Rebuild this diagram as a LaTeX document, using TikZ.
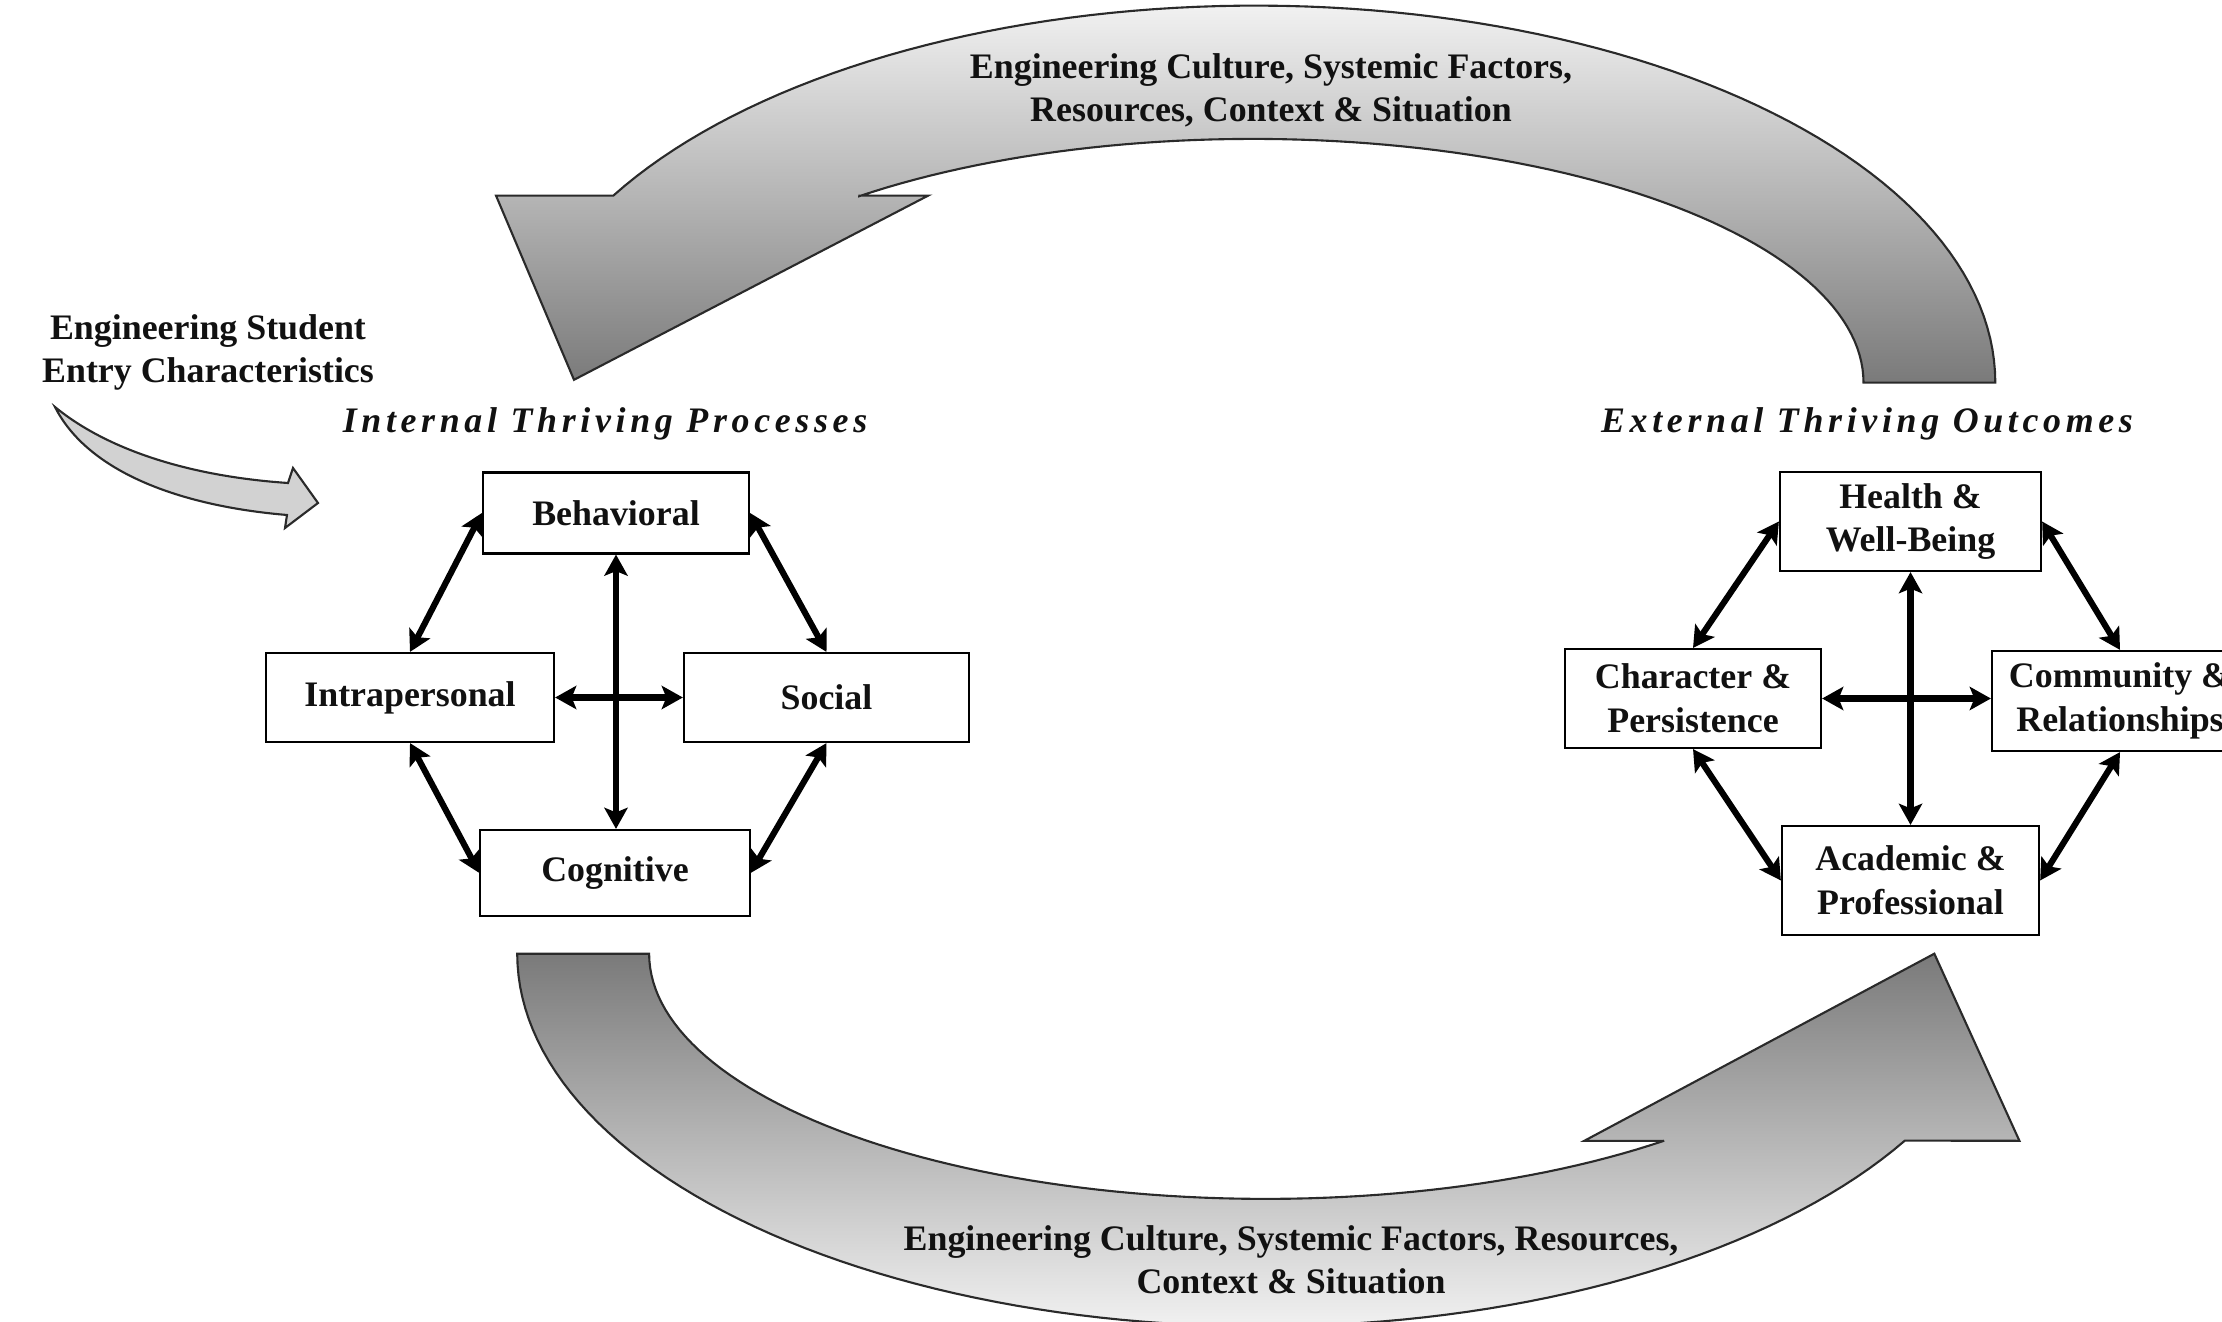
\documentclass[tikz,border=0pt]{standalone}
\usepackage{fontspec}
\setmainfont{Liberation Serif}
\newfontfamily\headfont{Liberation Serif}[LetterSpace=13]
\usetikzlibrary{arrows.meta,calc}
\definecolor{arrowlight}{HTML}{F1F1F1}
\definecolor{arrowdark}{HTML}{7A7A7A}
\definecolor{entryfill}{HTML}{D2D2D2}
\definecolor{arrowline}{HTML}{2A2A2A}
\definecolor{ink}{HTML}{111111}

\begin{document}
\begin{tikzpicture}[x=0.01cm,y=-0.01cm,
  every node/.style={text=ink},
  boxtext/.style={font=\fontsize{10.2}{12.5}\selectfont\bfseries},
  factor/.style={draw, line width=0.6pt, boxtext, align=center, inner sep=0pt},
  note/.style={font=\fontsize{10.2}{12.2}\selectfont\bfseries, align=center, inner sep=0pt},
  heading/.style={font=\fontsize{10.2}{12.5}\selectfont\headfont\bfseries\itshape, inner sep=0pt},
  bigarrow/.style={draw=arrowline, line width=0.6pt},
  tipshape/.tip={Stealth[length=6pt,width=6.6pt,inset=1.3pt]},
  link/.style={tipshape-tipshape, line width=1.75pt},
  crosslink/.style={link, line width=2.2pt}
]

\useasboundingbox (0,0) rectangle (2222,1322);
\clip (0,0) rectangle (2222,1322);

% upper feedback arrow, running from the outcomes back to the processes
\path[bigarrow, top color=arrowlight, bottom color=arrowdark]
  plot[domain=0:150.26, samples=90, variable=\t] ({1255.6+739.7*cos(\t)},{382.6-377*sin(\t)})
  -- (496,195.6) -- (574,379.8) -- (928.2,195.6) -- (859.3,195.6)
  -- plot[domain=0:130.1, samples=80, variable=\t] ({1252.7+610.8*cos(130.1-\t)},{382.6-243.7*sin(130.1-\t)})
  -- cycle;

% lower arrow, running from the processes to the outcomes
\path[bigarrow, top color=arrowdark, bottom color=arrowlight]
  plot[domain=0:149.9, samples=90, variable=\t] ({1261.2+744*cos(180-\t)},{953.7+372.7*sin(180-\t)})
  -- (2019.4,1140.8) -- (1934.3,953.7) -- (1584.3,1140.8) -- (1663.8,1140.8)
  -- plot[domain=49.7:180, samples=80, variable=\t] ({1265.5+616.4*cos(\t)},{953.7+245.2*sin(\t)})
  -- cycle;

% small curved entry arrow
\path[bigarrow, fill=entryfill]
  (55,407) .. controls (105,448) and (185,476) .. (288,483)
  -- (293,468) -- (318,503) -- (285,528) -- (287,515)
  .. controls (180,506) and (88,472) .. (55,407) -- cycle;

% captions
\node[note] (topnote) at (1271,90) {Engineering Culture, Systemic Factors,\\Resources, Context \& Situation};
\node[note] (botnote) at (1291,1260) {Engineering Culture, Systemic Factors, Resources,\\Context \& Situation};
\node[note] (entry) at (208,352) {Engineering Student\\Entry Characteristics};
\node[heading] (inhead) at (605,424) {Internal Thriving Processes};
\node[heading] (exhead) at (1867,424) {External Thriving Outcomes};

% internal processes
\node[factor, minimum width=2.66cm, minimum height=0.81cm] (behav) at (616,513) {Behavioral};
\node[factor, minimum width=2.88cm, minimum height=0.89cm] (intra) at (410,697.5) {Intrapersonal};
\node[factor, minimum width=2.85cm, minimum height=0.89cm] (social) at (826.5,697.5) {Social};
\node[factor, minimum width=2.69cm, minimum height=0.86cm] (cog) at (615,873) {Cognitive};

\draw[link] (behav.west) -- (intra.north);
\draw[link] (behav.east) -- (social.north);
\draw[link] (intra.south) -- (cog.west);
\draw[link] (social.south) -- (cog.east);
\draw[link] (behav.south) -- (behav.south |- cog.north);
\draw[crosslink] (intra.east) -- (intra.east -| social.west);

% external outcomes
\node[factor, minimum width=2.61cm, minimum height=0.99cm] (health) at (1910.5,521.5) {Health \&\\Well-Being};
\node[factor, minimum width=2.56cm, minimum height=0.99cm] (charac) at (1693,698.5) {Character \&\\Persistence};
\node[factor, minimum width=2.56cm, minimum height=1.00cm] (commun) at (2120,701) {Community \&\\Relationships};
\node[factor, minimum width=2.57cm, minimum height=1.09cm] (acad) at (1910.5,880.5) {Academic \&\\Professional};

\draw[link] (health.west) -- (charac.north);
\draw[link] (health.east) -- (commun.north);
\draw[link] (charac.south) -- (acad.west);
\draw[link] (commun.south) -- (acad.east);
\draw[link] (health.south) -- (health.south |- acad.north);
\draw[crosslink] (charac.east) -- (charac.east -| commun.west);
\end{tikzpicture}
\end{document}
